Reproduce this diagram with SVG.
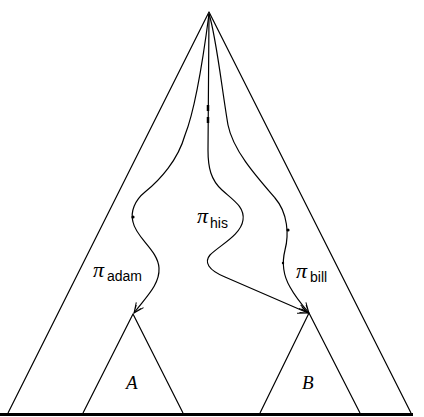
<svg xmlns="http://www.w3.org/2000/svg" width="424" height="417" viewBox="0 0 424 417">
<style>
.ln{fill:none;stroke:#000;stroke-width:1.2;stroke-linejoin:round}
.pi{font-family:"Liberation Serif",serif;font-style:italic;font-size:22px}
.sub{font-family:"Liberation Sans",sans-serif;font-size:14px}
.lab{font-family:"Liberation Serif",serif;font-style:italic;font-size:19px}
</style>
<defs>
<marker id="ah" viewBox="0 0 12 12" refX="11" refY="6" markerWidth="12" markerHeight="12" markerUnits="userSpaceOnUse" orient="auto">
<path d="M1,1.5 L11,6 L1,10.5 M3,3 L11,6 L3,9" fill="none" stroke="#000" stroke-width="1"/>
</marker>
</defs>
<rect width="424" height="417" fill="#fff"/>
<g id="outer-tree">
<polyline class="ln" points="8,413 209,12 411,413"/>
</g>
<g id="tree-A">
<polyline class="ln" points="83,413 133,314 183,413"/>
<text class="lab" x="126" y="389">A</text>
</g>
<g id="tree-B">
<polyline class="ln" points="260,413 309,313 360,413"/>
<text class="lab" x="302" y="389">B</text>
</g>
<g id="baseline">
<line x1="0" y1="414.5" x2="413" y2="414.5" stroke="#000" stroke-width="3"/>
</g>
<g id="connectors">
<path id="pi-adam" class="ln" marker-end="url(#ah)" d="M209,14 C203,60 195,110 185,135 C178,160 160,180 145,192 C135,200 130,212 133,222 C136,238 158,250 159,268 C160,285 145,298 134,313"/>
<path id="pi-his" class="ln" marker-end="url(#ah)" d="M209,14 L208,150 C208,168 211,180 222,190 C233,200 245,207 243,220 C241,235 220,245 210,255 C204,262 208,270 225,277 L308,313"/>
<path id="pi-bill" class="ln" marker-end="url(#ah)" d="M209,14 C216,35 222,90 228,125 C233,150 255,175 275,198 C288,213 289,235 285,250 C282,262 283,275 290,287 C296,298 303,306 309,313"/>
<line x1="208" y1="105" x2="208" y2="111" stroke="#000" stroke-width="2.5"/>
<line x1="208" y1="117" x2="208" y2="123" stroke="#000" stroke-width="2.5"/>
<circle cx="133" cy="217" r="1.6"/>
<circle cx="288" cy="230" r="1.6"/>
<circle cx="283" cy="263" r="1.2"/>
</g>
<g id="labels">
<text x="93" y="277"><tspan class="pi">π</tspan><tspan class="sub" x="107" y="281">adam</tspan></text>
<text x="197" y="223"><tspan class="pi">π</tspan><tspan class="sub" x="210" y="228">his</tspan></text>
<text x="296" y="278"><tspan class="pi">π</tspan><tspan class="sub" x="310" y="282">bill</tspan></text>
</g>
</svg>
